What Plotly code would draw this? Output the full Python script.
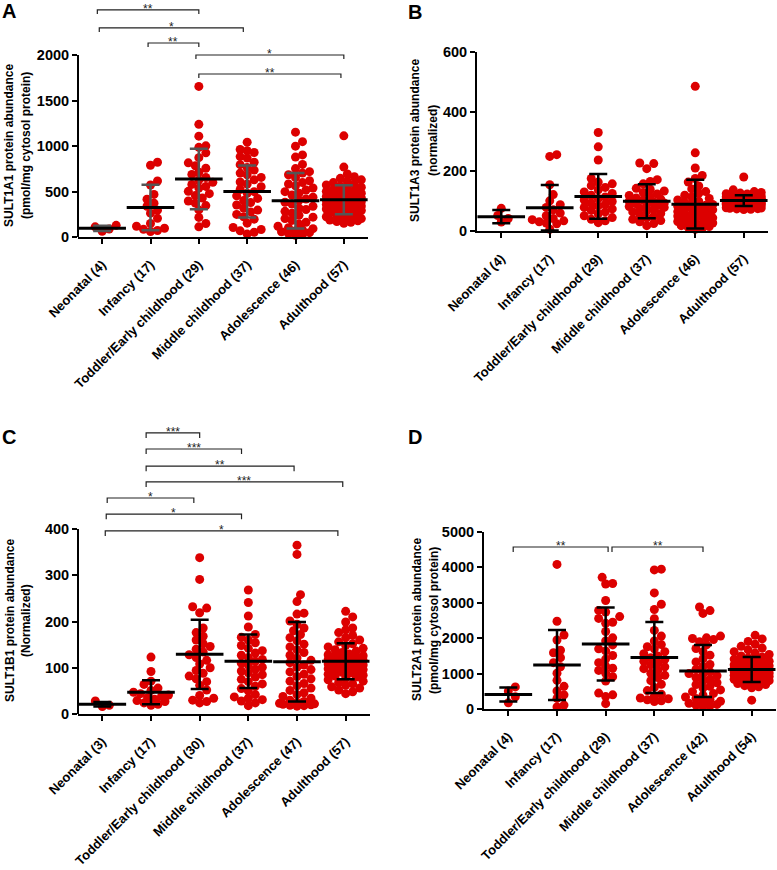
import math
import plotly.graph_objects as go

W, H = 777, 870

# ---------------- data ----------------
labels_A = ["Neonatal (4)", "Infancy (17)", "Toddler/Early childhood (29)",
            "Middle childhood (37)", "Adolescence (46)", "Adulthood (57)"]
labels_B = labels_A
labels_C = ["Neonatal (3)", "Infancy (17)", "Toddler/Early childhood (30)",
            "Middle childhood (37)", "Adolescence (47)", "Adulthood (57)"]
labels_D = ["Neonatal (4)", "Infancy (17)", "Toddler/Early childhood (29)",
            "Middle childhood (37)", "Adolescence (42)", "Adulthood (54)"]

# Panel A: SULT1A1 (pmol/mg cytosol protein)
A_neo = [128, 112, 88, 62]
A_inf = [822, 788, 615, 572, 468, 415, 372, 338, 295, 262, 205, 148, 118, 96, 84, 72, 60]
A_tod = [1655, 1238, 1108, 1002, 985, 925, 872, 815, 782, 756, 712, 688, 654, 626, 601,
         578, 556, 538, 502, 476, 455, 428, 396, 372, 345, 298, 215, 148, 112]
A_mid = [1042, 962, 948, 928, 884, 868, 822, 795, 764, 735, 702, 684, 655, 628, 604, 582,
         553, 522, 498, 481, 452, 424, 402, 378, 352, 318, 296, 276, 248, 222, 196, 152,
         104, 82, 68, 52, 32]
A_ado = [1152, 1048, 998, 902, 878, 798, 752, 718, 702, 684, 652, 618, 598, 582, 562, 538,
         516, 498, 482, 462, 438, 418, 402, 382, 362, 338, 318, 302, 282, 262, 238, 218,
         202, 182, 162, 142, 118, 102, 92, 78, 68, 58, 48, 38, 28, 18]
A_adu = [1112, 768, 692, 662, 645, 628, 612, 598, 585, 572, 561, 548, 536, 524, 512, 502,
         491, 482, 472, 463, 455, 446, 438, 430, 422, 415, 408, 400, 394, 387, 380, 372,
         364, 356, 348, 340, 332, 324, 316, 308, 300, 291, 282, 272, 262, 252, 242, 232,
         222, 212, 202, 194, 186, 178, 170, 162, 150]
A_mean = [95, 325, 638, 500, 398, 410]
A_sd = [30, 250, 333, 285, 305, 160]

# Panel B: SULT1A3 (normalized)
B_neo = [76, 52, 42, 30]
B_inf = [256, 250, 155, 122, 101, 88, 79, 71, 60, 51, 42, 38, 34, 31, 27, 24, 6]
B_tod = [330, 282, 238, 176, 164, 158, 152, 146, 138, 131, 126, 120, 114, 109, 104, 99,
         94, 89, 84, 79, 74, 69, 64, 58, 51, 45, 39, 34, 28]
B_mid = [228, 226, 209, 172, 166, 158, 143, 139, 134, 129, 124, 119, 115, 111, 107, 104,
         100, 97, 94, 91, 88, 85, 82, 79, 76, 72, 68, 64, 59, 54, 49, 44, 39, 35, 31, 25, 18]
B_ado = [485, 262, 211, 186, 176, 164, 151, 141, 132, 126, 120, 114, 109, 104, 100, 96,
         92, 89, 86, 83, 80, 77, 74, 71, 68, 65, 62, 59, 56, 53, 50, 47, 44, 41, 38, 35,
         32, 30, 27, 24, 21, 18, 15, 12, 9, 6]
B_adu = [181, 138, 132, 129, 127, 124, 121, 119, 117, 116, 114, 112, 111, 109, 108, 107,
         105, 104, 103, 102, 101, 100, 99, 98, 97, 96, 95, 94, 93, 92, 91, 90, 89, 88, 87,
         86, 85, 84, 83, 82, 81, 80, 79, 78, 77, 76, 75, 74, 73, 72, 125, 115, 110, 106,
         100, 96, 92]
B_mean = [48, 78, 116, 100, 90, 102]
B_sd = [22, 76, 75, 57, 82, 18]

# Panel C: SULT1B1 (Normalized)
C_neo = [28, 19, 16]
C_inf = [123, 92, 71, 64, 56, 51, 47, 44, 41, 38, 35, 32, 29, 27, 24, 21, 19]
C_tod = [338, 291, 232, 229, 219, 186, 176, 168, 160, 152, 146, 140, 134, 128, 122, 116,
         108, 100, 94, 88, 82, 76, 70, 62, 52, 40, 34, 30, 27, 24]
C_mid = [268, 241, 212, 188, 172, 166, 160, 154, 148, 142, 137, 132, 127, 122, 118, 114,
         110, 106, 101, 97, 93, 89, 85, 80, 75, 70, 65, 60, 55, 50, 42, 37, 34, 31, 28, 24, 18]
C_ado = [365, 345, 258, 243, 218, 216, 201, 194, 186, 180, 172, 165, 158, 151, 145, 139,
         133, 127, 121, 116, 111, 106, 101, 96, 91, 86, 81, 76, 71, 66, 61, 56, 51, 46, 42,
         38, 34, 30, 27, 25, 23, 22, 21, 20, 19, 18, 17]
C_adu = [222, 210, 199, 186, 182, 176, 170, 165, 160, 156, 152, 148, 145, 142, 139, 136,
         133, 130, 128, 126, 124, 122, 120, 118, 116, 114, 112, 110, 108, 106, 104, 102,
         100, 98, 96, 94, 92, 90, 88, 86, 84, 82, 80, 77, 74, 71, 68, 65, 62, 59, 56, 52,
         48, 44, 125, 115, 105]
C_mean = [21, 47, 129, 114, 113, 114]
C_sd = [5, 26, 75, 58, 86, 39]

# Panel D: SULT2A1 (pmol/mg cytosol protein)
D_neo = [625, 505, 345, 175]
D_inf = [4085, 2480, 2090, 1950, 1660, 1590, 1450, 1310, 1190, 1010, 810, 640, 510, 400,
         300, 110, 60]
D_tod = [3720, 3545, 3530, 3065, 2785, 2740, 2610, 2560, 2450, 2420, 2190, 2010, 1920,
         1810, 1700, 1640, 1510, 1410, 1310, 1210, 1150, 1090, 1010, 910, 790, 450, 400,
         350, 150]
D_mid = [3950, 3930, 3280, 2960, 2810, 2550, 2220, 2060, 1920, 1820, 1760, 1700, 1620,
         1560, 1500, 1450, 1400, 1350, 1300, 1250, 1190, 1140, 1090, 1010, 950, 890, 800,
         700, 610, 520, 420, 360, 310, 290, 260, 230, 210]
D_ado = [2880, 2780, 2700, 2060, 2010, 1990, 1960, 1900, 1810, 1710, 1620, 1520, 1420,
         1330, 1260, 1200, 1120, 1050, 990, 940, 890, 840, 790, 740, 690, 640, 590, 540,
         490, 440, 390, 340, 300, 260, 220, 190, 160, 130, 110, 90, 70, 1000]
D_adu = [2080, 1980, 1910, 1830, 1770, 1720, 1670, 1620, 1580, 1540, 1500, 1470, 1440,
         1410, 1380, 1350, 1320, 1290, 1260, 1240, 1220, 1200, 1180, 1160, 1140, 1120, 1100,
         1080, 1060, 1040, 1020, 1000, 980, 960, 940, 920, 900, 880, 860, 840, 820, 800,
         780, 750, 720, 690, 660, 630, 600, 250, 1150, 1050, 950, 1250]
D_mean = [410, 1245, 1836, 1455, 1075, 1115]
D_sd = [195, 990, 1030, 1000, 735, 355]

# significance brackets: (from category, to category, level, label)
A_brackets = [(-0.1, 2.0, 2495, "**"), (-0.06, 2.92, 2297, "*"), (0.95, 2.0, 2132, "**"),
              (1.94, 5.0, 2000, "*"), (2.0, 4.94, 1791, "**")]
C_brackets = [(0.9, 2.0, 608, "***"), (0.9, 2.86, 573, "***"), (0.9, 3.94, 536, "**"),
              (0.9, 4.94, 502, "***"), (0.1, 1.88, 467, "*"), (0.08, 2.86, 432, "*"),
              (0.06, 4.84, 396, "*")]
D_brackets = [(0.1, 2.05, 4576, "**"), (2.13, 4.0, 4576, "**")]

# ---------------- layout geometry (pixels) ----------------
panels = [
    dict(letter="A", groups=[A_neo, A_inf, A_tod, A_mid, A_ado, A_adu], mean=A_mean, sd=A_sd,
         labels=labels_A, brackets=A_brackets, bdrop=45, topval=2000, dtick=500,
         px=(78, 368), yb=237, yt=55, domtop=4, errc="#555555",
         title=("SULT1A1 protein abundance", "(pmol/mg cytosol protein)"),
         tx=(9, 26), ty=146, lx=9, ly=11),
    dict(letter="B", groups=[B_neo, B_inf, B_tod, B_mid, B_ado, B_adu], mean=B_mean, sd=B_sd,
         labels=labels_B, brackets=[], bdrop=0, topval=600, dtick=200,
         px=(477, 768), yb=231, yt=52, domtop=52, errc="black",
         title=("SULT1A3 protein abundance", "(normalized)"),
         tx=(415, 433), ty=141, lx=415, ly=12),
    dict(letter="C", groups=[C_neo, C_inf, C_tod, C_mid, C_ado, C_adu], mean=C_mean, sd=C_sd,
         labels=labels_C, brackets=C_brackets, bdrop=11, topval=400, dtick=100,
         px=(78, 370), yb=714, yt=529, domtop=424, errc="black",
         title=("SULT1B1 protein abundance", "(Normalized)"),
         tx=(10, 26), ty=621, lx=9, ly=437),
    dict(letter="D", groups=[D_neo, D_inf, D_tod, D_mid, D_ado, D_adu], mean=D_mean, sd=D_sd,
         labels=labels_D, brackets=D_brackets, bdrop=140, topval=5000, dtick=1000,
         px=(484, 776), yb=709, yt=532, domtop=532, errc="black",
         title=("SULT2A1 protein abundance", "(pmol/mg cytosol protein)"),
         tx=(417, 434), ty=620, lx=415, ly=437),
]

RED = "#dc0000"
FONT = "Liberation Sans, Arial, sans-serif"


def swarm_offsets(vals, ppu, ppc, d=7.0, maxw=17.5):
    """Deterministic beeswarm: returns x offsets (category units)."""
    n = len(vals)
    order = sorted(range(n), key=lambda i: vals[i])
    placed = []
    off = [0.0] * n
    step = d * 0.5
    ks = [0.0]
    k = 1
    while k * step <= maxw:
        ks.append(k * step)
        k += 1
    for i in order:
        y = vals[i] * ppu
        near = [p for p in placed if abs(p[1] - y) < d]
        bal = sum(p[0] for p in near)
        cands = []
        for a in ks:
            if a == 0:
                cands.append(0.0)
            elif bal > 0:
                cands += [-a, a]
            else:
                cands += [a, -a]
        best, bestpen = None, None
        for c in cands:
            pen = 0.0
            for (qx, qy) in near:
                dist = math.hypot(c - qx, y - qy)
                if dist < d:
                    pen += d - dist
            if pen == 0:
                best = c
                break
            if bestpen is None or pen < bestpen:
                best, bestpen = c, pen
        placed.append((best, y))
        off[i] = best / ppc
    return off


fig = go.Figure()
layout = dict(width=W, height=H, margin=dict(l=0, r=0, t=0, b=0, autoexpand=False),
              paper_bgcolor="white", plot_bgcolor="white", showlegend=False,
              font=dict(family=FONT, color="black"))
shapes = []
annotations = []

for pi, P in enumerate(panels):
    sfx = "" if pi == 0 else str(pi + 1)
    xa, ya = "x" + sfx, "y" + sfx
    x0, x1 = P["px"]
    yb, yt, domtop = P["yb"], P["yt"], P["domtop"]
    rtop = P["topval"] * (yb - domtop) / (yb - yt)
    ppu = (yb - yt) / P["topval"]
    ppc = (x1 - x0) / 6.0
    extended = domtop < yt - 0.5

    # points
    for gi, vals in enumerate(P["groups"]):
        offs = swarm_offsets(vals, ppu, ppc)
        fig.add_trace(go.Scatter(
            x=[gi + o for o in offs], y=vals, mode="markers", xaxis=xa, yaxis=ya,
            marker=dict(size=9, color=RED, line=dict(width=0)),
            cliponaxis=False, hoverinfo="y"))
    # mean +/- SD
    fig.add_trace(go.Scatter(
        x=list(range(6)), y=P["mean"], mode="markers", xaxis=xa, yaxis=ya,
        marker=dict(symbol="line-ew", size=34, color="black",
                    line=dict(width=3, color="black")),
        error_y=dict(type="data", array=P["sd"], symmetric=True, width=9,
                     thickness=2.5, color=P["errc"]),
        cliponaxis=False, hoverinfo="y"))
    # brackets
    for (b0, b1, lev, lab) in P["brackets"]:
        fig.add_trace(go.Scatter(
            x=[b0, b0, b1, b1], y=[lev - P["bdrop"], lev, lev, lev - P["bdrop"]],
            mode="lines", xaxis=xa, yaxis=ya, line=dict(color="#222222", width=1.2),
            cliponaxis=False, hoverinfo="skip"))
        annotations.append(dict(
            x=(b0 + b1) / 2, y=lev, xref=xa, yref=ya, text=lab, showarrow=False,
            xanchor="center", yanchor="bottom", yshift=-7, borderpad=0,
            font=dict(size=12, color="#222222", family=FONT)))

    layout["xaxis" + sfx] = dict(
        domain=[x0 / W, x1 / W], anchor=ya, range=[-0.5, 5.5], automargin=False,
        tickmode="array", tickvals=list(range(6)), ticktext=P["labels"],
        tickangle=-45, ticks="outside", ticklen=5, tickwidth=2, tickcolor="black",
        ticklabelstandoff=8,
        showline=True, linewidth=2, linecolor="black", showgrid=False, zeroline=False,
        tickfont=dict(size=13, family=FONT, weight="bold", color="black"))
    layout["yaxis" + sfx] = dict(
        domain=[1 - yb / H, 1 - domtop / H], anchor=xa, range=[0, rtop], automargin=False,
        tickmode="linear", tick0=0, dtick=P["dtick"],
        ticks="outside", ticklen=5, tickwidth=2, tickcolor="black",
        showline=not extended, linewidth=2, linecolor="black",
        showgrid=False, zeroline=False,
        tickfont=dict(size=14.5, family=FONT, weight="bold", color="black"))
    if extended:
        layout["yaxis" + sfx].update(tickmode="array",
                                     tickvals=list(range(0, P["topval"] + 1, P["dtick"])))
        shapes.append(dict(type="line", xref="paper", yref=ya, x0=x0 / W, x1=x0 / W,
                           y0=0, y1=P["topval"], line=dict(color="black", width=2)))

    # y titles
    for li, line in enumerate(P["title"]):
        annotations.append(dict(
            x=P["tx"][li] / W, y=1 - P["ty"] / H, xref="paper", yref="paper",
            text=line, showarrow=False, textangle=-90, xanchor="center", yanchor="middle",
            font=dict(size=12, family=FONT, weight="bold", color="black")))
    # panel letter
    annotations.append(dict(
        x=P["lx"] / W, y=1 - P["ly"] / H, xref="paper", yref="paper", text=P["letter"],
        showarrow=False, xanchor="center", yanchor="middle",
        font=dict(size=20, family=FONT, weight="bold", color="black")))

layout["shapes"] = shapes
layout["annotations"] = annotations
fig.update_layout(**layout)
fig.write_html("out.html", config={"displayModeBar": False},
               post_script="document.body.style.margin='0';document.body.style.overflow='hidden';")
